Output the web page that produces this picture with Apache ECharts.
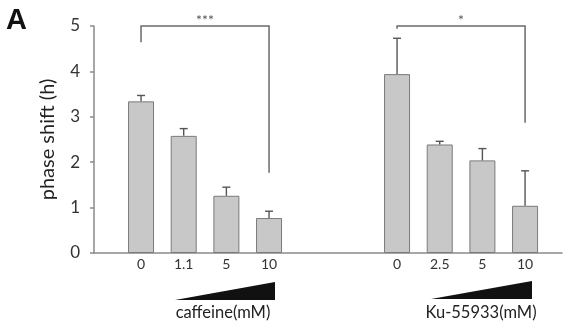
<!DOCTYPE html>
<html>
<head>
<meta charset="utf-8">
<script src="https://cdn.jsdelivr.net/npm/echarts@6/dist/echarts.min.js"></script>
<style>
  html, body { margin: 0; padding: 0; background: #fff; }
  #chart { width: 563px; height: 324px; }
</style>
</head>
<body>
<div id="chart"></div>
<script>
// ---- data ----
const categories = ['0', '1.1', '5', '10', '', '', '0', '2.5', '5', '10'];
const means      = [3.34, 2.58, 1.26, 0.77, '-', '-', 3.94, 2.39, 2.04, 1.04];
const errors     = [0.13, 0.16, 0.19, 0.15, '-', '-', 0.79, 0.07, 0.26, 0.77];
const yTicks     = [0, 1, 2, 3, 4, 5];
const yName      = 'phase shift (h)';
const bracketFrom     = [0, 6];
const bracketTo       = [3, 9];
const bracketTop      = [5, 5];
const bracketLeftEnd  = [4.64, 4.94];
const bracketRightEnd = [1.77, 2.87];
const bracketLabels   = ['***', '*'];
const groupLabels     = ['caffeine(mM)', 'Ku-55933(mM)'];
const panelLabel      = 'A';

const FONT = 'Lato, "Open Sans", sans-serif';
const chart = echarts.init(document.getElementById('chart'), null, { renderer: 'canvas' });

const errData = [];
means.forEach((m, i) => { if (m !== '-') errData.push([i, m, m + errors[i]]); });
const bracketData = bracketFrom.map((f, i) => [f, bracketTo[i], bracketTop[i], bracketLeftEnd[i], bracketRightEnd[i], i]);

const option = {
  animation: false,
  backgroundColor: '#fff',
  grid: [
    { left: 94, top: 26, bottom: 71, right: 1 },
    { left: 119.7, width: 426.7, top: 26, bottom: 71 }
  ],
  xAxis: [
    { type: 'value', gridIndex: 0, min: 0, max: 1,
      axisLine: { show: true, onZero: false, lineStyle: { color: '#8a8a8a', width: 1.5 } },
      axisTick: { show: false }, axisLabel: { show: false }, splitLine: { show: false } },
    { type: 'category', gridIndex: 1, data: categories, boundaryGap: true,
      axisLine: { show: false }, axisTick: { show: false }, splitLine: { show: false },
      axisLabel: { interval: 0, color: '#333', fontSize: 14, margin: 4, fontFamily: FONT } }
  ],
  yAxis: [
    { type: 'value', gridIndex: 0, min: yTicks[0], max: yTicks[yTicks.length - 1], interval: 1,
      name: yName, nameLocation: 'middle', nameGap: 36,
      nameTextStyle: { fontSize: 20, color: '#222', fontFamily: FONT },
      axisLine: { show: true, lineStyle: { color: '#8a8a8a', width: 1.5 } },
      axisTick: { show: true, length: 4, lineStyle: { color: '#8a8a8a', width: 1.5 } },
      axisLabel: { color: '#333', fontSize: 17, margin: 14, fontFamily: FONT },
      splitLine: { show: false } },
    { type: 'value', gridIndex: 1, min: yTicks[0], max: yTicks[yTicks.length - 1], interval: 1, show: false }
  ],
  series: [
    { type: 'bar', xAxisIndex: 1, yAxisIndex: 1, data: means, barWidth: 26,
      itemStyle: { color: '#c8c8c8', borderColor: '#7a7a7a', borderWidth: 1 } },
    { type: 'custom', xAxisIndex: 1, yAxisIndex: 1, data: errData, clip: false, z: 3,
      renderItem: function (params, api) {
        const x = api.value(0);
        const b = api.coord([x, api.value(1)]);
        const t = api.coord([x, api.value(2)]);
        const st = { stroke: '#555', lineWidth: 1.4 };
        return { type: 'group', children: [
          { type: 'line', shape: { x1: b[0], y1: b[1], x2: t[0], y2: t[1] }, style: st },
          { type: 'line', shape: { x1: t[0] - 4, y1: t[1], x2: t[0] + 4, y2: t[1] }, style: st }
        ]};
      } },
    { type: 'custom', xAxisIndex: 1, yAxisIndex: 1, data: bracketData, clip: false, z: 3,
      renderItem: function (params, api) {
        const f = api.value(0), to = api.value(1), top = api.value(2);
        const p1 = api.coord([f, api.value(3)]);
        const p2 = api.coord([f, top]);
        const p3 = api.coord([to, top]);
        const p4 = api.coord([to, api.value(4)]);
        const idx = api.value(5);
        return { type: 'group', children: [
          { type: 'polyline', shape: { points: [p1, p2, p3, p4] },
            style: { stroke: '#6a6a6a', lineWidth: 1.5, fill: null } },
          { type: 'text', x: (p2[0] + p3[0]) / 2, y: p2[1] + 1,
            style: { text: bracketLabels[idx], fill: '#555', fontSize: 14, fontFamily: FONT,
                     align: 'center', verticalAlign: 'bottom' } }
        ]};
      } }
  ],
  graphic: [
    { type: 'text', left: 6, top: 6, style: { text: panelLabel, fontSize: 29, fontWeight: 'bold',
      fontFamily: 'Liberation Sans, Arial, sans-serif', fill: '#111' } },
    { type: 'polygon', shape: { points: [[175, 300], [275, 282], [275, 300]] }, style: { fill: '#111' } },
    { type: 'polygon', shape: { points: [[431, 299], [532, 281], [532, 299]] }, style: { fill: '#111' } },
    { type: 'text', x: 223, y: 313, style: { text: groupLabels[0], fontSize: 16.5, fontFamily: FONT,
      fill: '#222', align: 'center', verticalAlign: 'middle' } },
    { type: 'text', x: 481, y: 313, style: { text: groupLabels[1], fontSize: 16.5, fontFamily: FONT,
      fill: '#222', align: 'center', verticalAlign: 'middle' } }
  ]
};
chart.setOption(option);
</script>
</body>
</html>
